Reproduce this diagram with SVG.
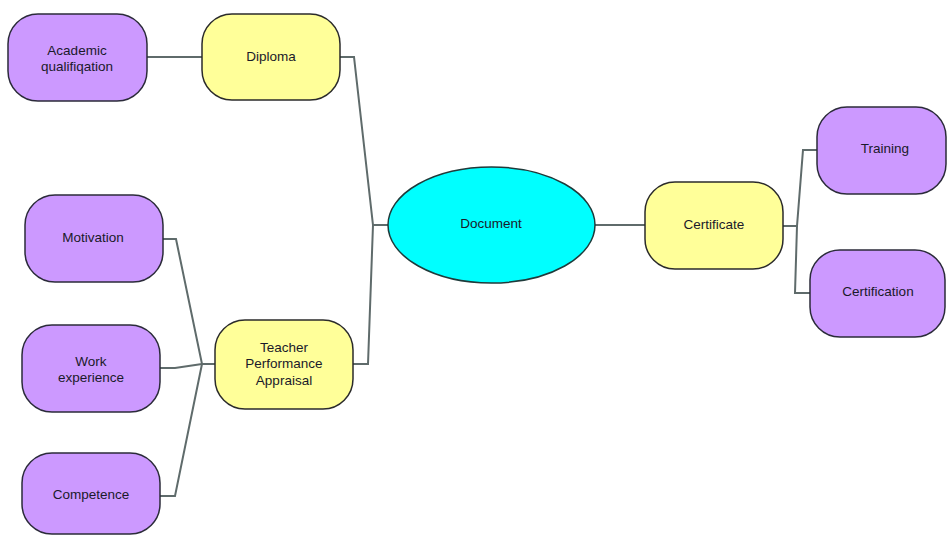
<svg xmlns="http://www.w3.org/2000/svg" width="947" height="536" viewBox="0 0 947 536">
<style>
.p{fill:#cc99ff;stroke:#2b2b3a;stroke-width:1.5}
.y{fill:#ffff99;stroke:#2b2b2b;stroke-width:1.5}
.c{fill:#00ffff;stroke:#1f3a3a;stroke-width:1.5}
.t{font-family:"Liberation Sans",Arial,sans-serif;font-size:13.5px;fill:#1a1a2a;text-anchor:middle;dominant-baseline:central}
.l{fill:none;stroke:#5f6b6b;stroke-width:2}
</style>
<rect width="947" height="536" fill="#ffffff"/>
<g id="connectors">
<path class="l" d="M147,57 H202"/>
<path class="l" d="M340,57 H354 L373,225 H388"/>
<path class="l" d="M353,364 H368 L373,225"/>
<path class="l" d="M163,239 H176 L202,364 H215"/>
<path class="l" d="M160,368 H175 L202,364"/>
<path class="l" d="M160,496 H175 L202,364"/>
<path class="l" d="M595,225 H645"/>
<path class="l" d="M783,226 H797 L803,150 H817"/>
<path class="l" d="M797,226 L795,293 H810"/>
</g>
<g id="academic"><rect class="p" x="8" y="14" width="139" height="87" rx="30"/><text class="t" x="77" y="50">Academic</text><text class="t" x="77" y="66">qualifiqation</text></g>
<g id="diploma"><rect class="y" x="202" y="14" width="138" height="86" rx="30"/><text class="t" x="271" y="56">Diploma</text></g>
<g id="document"><ellipse class="c" cx="491.5" cy="225" rx="103.5" ry="58"/><text class="t" x="491" y="223">Document</text></g>
<g id="certificate"><rect class="y" x="645" y="182" width="138" height="87" rx="30"/><text class="t" x="714" y="224">Certificate</text></g>
<g id="training"><rect class="p" x="817" y="107" width="129" height="87" rx="30"/><text class="t" x="885" y="148">Training</text></g>
<g id="certification"><rect class="p" x="810" y="250" width="135" height="87" rx="30"/><text class="t" x="878" y="291">Certification</text></g>
<g id="motivation"><rect class="p" x="25" y="195" width="138" height="87" rx="30"/><text class="t" x="93" y="237">Motivation</text></g>
<g id="work"><rect class="p" x="22" y="325" width="138" height="87" rx="30"/><text class="t" x="91" y="361">Work</text><text class="t" x="91" y="377">experience</text></g>
<g id="competence"><rect class="p" x="22" y="453" width="138" height="81" rx="30"/><text class="t" x="91" y="494">Competence</text></g>
<g id="tpa"><rect class="y" x="215" y="320" width="138" height="89" rx="30"/><text class="t" x="284" y="347">Teacher</text><text class="t" x="284" y="363">Performance</text><text class="t" x="284" y="380">Appraisal</text></g>
</svg>
